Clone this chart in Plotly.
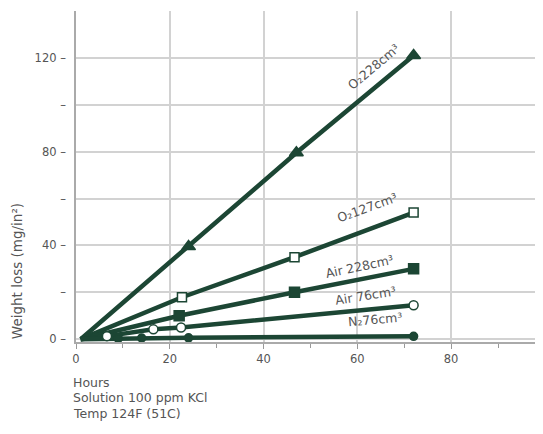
import plotly.graph_objects as go

# ---- data ----
o2_228_x = [1, 24, 47, 72]
o2_228_y = [0, 39.5, 79.5, 121]

o2_127_x = [1, 22.6, 46.6, 72]
o2_127_y = [0, 17.9, 35, 54]

air_228_x = [1, 22, 46.6, 72]
air_228_y = [0, 10, 20, 30]

air_76_x = [1, 6.6, 16.5, 22.4, 72]
air_76_y = [0, 1.3, 4.2, 5.0, 14.5]

n2_76_x = [1, 9, 14, 24, 72]
n2_76_y = [0, 0.3, 0.5, 0.6, 1.2]

series_labels = ["O₂228cm³", "O₂127cm³", "Air 228cm³", "Air 76cm³", "N₂76cm³"]
label_x = [63.5, 62.2, 60.5, 61.8, 63.7]
label_y = [116.5, 56, 31, 18.5, 8.5]
label_angle = [-40, -20, -12, -9, -5]

y_tickvals = [0, 20, 40, 60, 80, 100, 120, 140]
y_ticktext = ["0 –", "–", "40 –", "–", "80 –", "–", "120 –", "–"]
x_tickvals = [0, 20, 40, 60, 80, 100]

notes = ["Hours", "Solution 100 ppm KCl", "Temp 124F (51C)"]
y_title = "Weight loss (mg/in²)"

GREEN = "#1c4634"
GRAY = "#555555"
FONT = "DejaVu Sans"

fig = go.Figure()

series = [
    (o2_228_x, o2_228_y, "triangle-up", GREEN, 12),
    (o2_127_x, o2_127_y, "square", "white", 9),
    (air_228_x, air_228_y, "square", GREEN, 10),
    (air_76_x, air_76_y, "circle", "white", 9),
    (n2_76_x, n2_76_y, "circle", GREEN, 8),
]

for xs, ys, sym, fill, size in series:
    fig.add_trace(go.Scatter(x=xs, y=ys, mode="lines",
                             line=dict(color=GREEN, width=4.5),
                             showlegend=False, hoverinfo="skip"))
for xs, ys, sym, fill, size in series:
    fig.add_trace(go.Scatter(x=xs[1:], y=ys[1:], mode="markers",
                             marker=dict(symbol=sym, size=size, color=fill,
                                         line=dict(color=GREEN, width=1.5)),
                             showlegend=False, hoverinfo="skip"))

for t, lx, ly, ang in zip(series_labels, label_x, label_y, label_angle):
    fig.add_annotation(x=lx, y=ly, text=t, textangle=ang, showarrow=False,
                       font=dict(family=FONT, size=12.5, color=GRAY))

fig.add_annotation(xref="paper", yref="y", x=-0.125, y=-1, yanchor="bottom",
                   xanchor="center", text=y_title, textangle=-90,
                   showarrow=False, font=dict(family=FONT, size=13.5, color=GRAY))

for i, t in enumerate(notes):
    fig.add_annotation(xref="paper", yref="paper", x=-0.011,
                       y=-0.121 - 0.048 * i, xanchor="left", yanchor="middle",
                       text=t, showarrow=False,
                       font=dict(family=FONT, size=12.5, color=GRAY))

fig.update_layout(
    width=543, height=434,
    margin=dict(l=68, r=0, t=3, b=100, autoexpand=False),
    paper_bgcolor="white", plot_bgcolor="white",
    font=dict(family=FONT, color=GRAY, size=11),
)
fig.update_xaxes(range=[0, 101.3], tickvals=x_tickvals, ticktext=["0", "20", "40", "60", "80", ""],
                 automargin=False,
                 showgrid=True, gridcolor="#d2d2d2", gridwidth=1.5,
                 showline=True, linecolor="#aaaaaa", linewidth=1.5,
                 ticks="outside", ticklen=5, tickcolor="#999999",
                 minor=dict(dtick=10, tick0=0, ticks="outside", ticklen=4,
                            tickcolor="#999999", showgrid=False),
                 zeroline=False, tickfont=dict(size=11.5, color=GRAY))
fig.update_yaxes(range=[-1.2, 140], tickvals=y_tickvals, ticktext=y_ticktext,
                 automargin=False,
                 showgrid=True, gridcolor="#d2d2d2", gridwidth=1.5,
                 showline=True, linecolor="#aaaaaa", linewidth=1.5,
                 ticks="", ticklabelstandoff=6,
                 zeroline=False, tickfont=dict(size=11.5, color=GRAY))

fig.write_html("out.html")
